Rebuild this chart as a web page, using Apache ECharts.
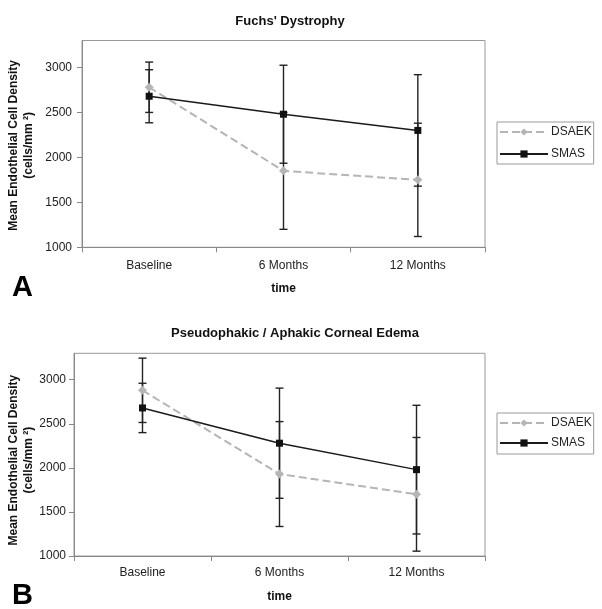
<!DOCTYPE html>
<html>
<head>
<meta charset="utf-8">
<script src="https://cdn.jsdelivr.net/npm/echarts@6/dist/echarts.min.js"></script>
<style>html,body{margin:0;padding:0;background:#fff}#c{width:602px;height:609px}</style>
</head>
<body>
<div id="c"></div>
<script>
// ---- data ----
const categories = ['Baseline', '6 Months', '12 Months'];
const yTickValues = [1000, 1500, 2000, 2500, 3000];
const yMin = 1000, yMax = 3300, yStep = 500;

const titleA = "Fuchs' Dystrophy";
const titleB = 'Pseudophakic / Aphakic Corneal Edema';

const dsaekA = [2780, 1850, 1750];
const dsaekSdA = [280, 650, 630];
const smasA = [2680, 2480, 2300];
const smasSdA = [295, 545, 620];

const dsaekB = [2880, 1930, 1700];
const dsaekSdB = [365, 595, 645];
const smasB = [2680, 2280, 1980];
const smasSdB = [280, 625, 730];

// ---- chart ----
const FONT = 'Liberation Sans, Arial, sans-serif';
const chart = echarts.init(document.getElementById('c'), null, {renderer: 'canvas'});

function errRender(params, api) {
  const x = api.value(0), m = api.value(1), s = api.value(2);
  const hi = api.coord([x, m + s]);
  const lo = api.coord([x, m - s]);
  const w = 4;
  const st = {stroke: '#222', lineWidth: 1.4};
  return {type: 'group', children: [
    {type: 'line', shape: {x1: hi[0], y1: hi[1], x2: lo[0], y2: lo[1]}, style: st},
    {type: 'line', shape: {x1: hi[0] - w, y1: hi[1], x2: hi[0] + w, y2: hi[1]}, style: st},
    {type: 'line', shape: {x1: lo[0] - w, y1: lo[1], x2: lo[0] + w, y2: lo[1]}, style: st}
  ]};
}
function errData(means, sds) { return means.map((m, i) => [i, m, sds[i]]); }

function xAxisFor(gi, margin, nameGap) {
  return {
    type: 'category', gridIndex: gi, data: categories, boundaryGap: true,
    name: 'time', nameLocation: 'middle', nameGap: nameGap, nameMoveOverlap: false,
    nameTextStyle: {fontFamily: FONT, fontSize: 12, fontWeight: 'bold', color: '#111'},
    axisLine: {lineStyle: {color: '#888', width: 1}},
    axisTick: {show: true, length: 5, lineStyle: {color: '#888'}},
    axisLabel: {fontFamily: FONT, fontSize: 12, color: '#222', margin: margin},
    splitLine: {show: false}
  };
}
function yAxisFor(gi, margin, nameGap, shift) {
  return {
    type: 'value', gridIndex: gi, min: yMin, max: yMax, interval: yStep,
    name: 'Mean Endothelial Cell Density\n(cells/mm \u00B2)',
    nameLocation: 'middle', nameRotate: 90, nameGap: nameGap, nameMoveOverlap: false,
    nameTextStyle: {fontFamily: FONT, fontSize: 12, fontWeight: 'bold', color: '#111', lineHeight: 15,
                    align: 'center', padding: [0, shift, 0, 0]},
    axisLine: {show: true, lineStyle: {color: '#888', width: 1}},
    axisTick: {show: true, length: 5, lineStyle: {color: '#888'}, customValues: yTickValues},
    axisLabel: {fontFamily: FONT, fontSize: 12, color: '#222', margin: margin, customValues: yTickValues,
                formatter: v => String(v)},
    splitLine: {show: false}
  };
}

const dsaekLine = {color: '#b5b5b5', width: 2, type: [8, 4]};
const smasLine = {color: '#1a1a1a', width: 1.5};

function lineSeries(name, data, gi, isDsaek) {
  return {
    type: 'line', name: name, xAxisIndex: gi, yAxisIndex: gi, data: data, z: 3,
    symbol: isDsaek ? 'diamond' : 'rect', symbolSize: isDsaek ? 9 : 7,
    lineStyle: isDsaek ? dsaekLine : smasLine,
    itemStyle: {color: isDsaek ? '#b5b5b5' : '#111', borderWidth: 0},
    emphasis: {disabled: true}
  };
}
function errSeries(name, means, sds, gi) {
  return {
    type: 'custom', name: name, xAxisIndex: gi, yAxisIndex: gi, z: 2,
    renderItem: errRender, data: errData(means, sds),
    encode: {x: 0, y: [1]}, silent: true
  };
}
function legendFor(top, gap, pad) {
  return {
    data: ['DSAEK', 'SMAS'], orient: 'vertical', left: 497, top: top,
    itemWidth: 48, itemHeight: 9, itemGap: gap, padding: pad,
    borderColor: '#999', borderWidth: 1, selectedMode: false,
    textStyle: {fontFamily: FONT, fontSize: 12, color: '#222', padding: [0, 0, 0, -2]}
  };
}

const gridBase = {show: true, borderColor: '#999', borderWidth: 1, containLabel: false, outerBoundsMode: 'none'};

const option = {
  animation: false,
  backgroundColor: '#fff',
  title: [
    {text: titleA, left: 285, top: 10, textAlign: 'center',
     textStyle: {fontFamily: FONT, fontSize: 13, fontWeight: 'bold', color: '#111'}},
    {text: titleB, left: 290, top: 322, textAlign: 'center',
     textStyle: {fontFamily: FONT, fontSize: 13, fontWeight: 'bold', color: '#111'}},
    {text: 'A', left: 7, top: 268, textStyle: {fontFamily: FONT, fontSize: 29, fontWeight: 'bold', color: '#000'}},
    {text: 'B', left: 7, top: 576, textStyle: {fontFamily: FONT, fontSize: 29, fontWeight: 'bold', color: '#000'}}
  ],
  legend: [legendFor(122, 10, [4, 2, 4, 2]), legendFor(413, 8, [4, 2, 5, 2])],
  grid: [
    Object.assign({left: 82, right: 117, top: 40.5, bottom: 609 - 247.3}, gridBase),
    Object.assign({left: 74, right: 117, top: 353.3, bottom: 609 - 556}, gridBase)
  ],
  xAxis: [xAxisFor(0, 12, 35), xAxisFor(1, 11, 35)],
  yAxis: [yAxisFor(0, 10, 45.5, 3), yAxisFor(1, 8, 37.5, 11)],
  series: [
    errSeries('DSAEK sd A', dsaekA, dsaekSdA, 0),
    errSeries('SMAS sd A', smasA, smasSdA, 0),
    lineSeries('DSAEK', dsaekA, 0, true),
    lineSeries('SMAS', smasA, 0, false),
    errSeries('DSAEK sd B', dsaekB, dsaekSdB, 1),
    errSeries('SMAS sd B', smasB, smasSdB, 1),
    lineSeries('DSAEK', dsaekB, 1, true),
    lineSeries('SMAS', smasB, 1, false)
  ]
};
chart.setOption(option);
</script>
</body>
</html>
